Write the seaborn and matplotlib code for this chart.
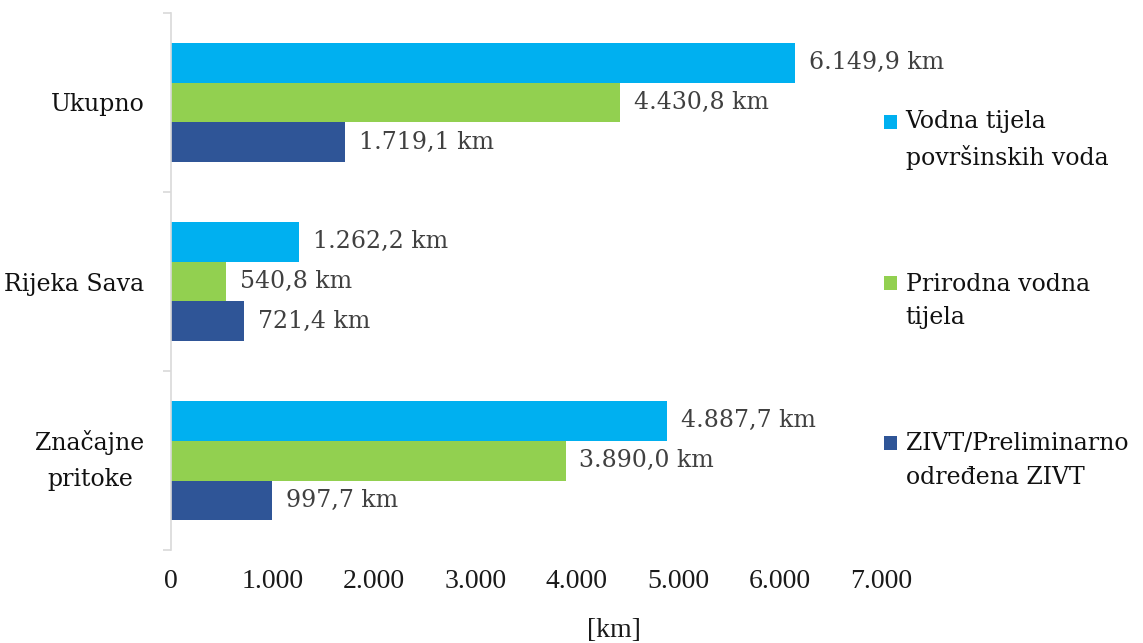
import pandas as pd
import matplotlib.pyplot as plt
import seaborn as sns
from matplotlib.patches import Rectangle
from matplotlib.legend_handler import HandlerPatch
from matplotlib.ticker import FuncFormatter, FixedLocator

# data
categories = ['Ukupno', 'Rijeka Sava', 'Značajne\npritoke']
series = ['Vodna tijela\npovršinskih voda', 'Prirodna vodna\ntijela', 'ZIVT/Preliminarno\nodređena ZIVT']
vodna_tijela = [6149.9, 1262.2, 4887.7]
prirodna = [4430.8, 540.8, 3890.0]
zivt = [1719.1, 721.4, 997.7]
colors = ['#00B0F0', '#92D050', '#2F5597']
x_ticks = [0, 1000, 2000, 3000, 4000, 5000, 6000, 7000]

df = pd.DataFrame({
    'kategorija': categories * 3,
    'serija': [s for s in series for _ in categories],
    'km': vodna_tijela + prirodna + zivt,
})

sns.set_theme(style="white")
plt.rcParams['font.family'] = ['DejaVu Serif']

fig = plt.figure(figsize=(11.43, 6.43), dpi=100)
ax = fig.add_axes([0.1496, 0.1446, 0.6212, 0.8352])

sns.barplot(data=df, y='kategorija', x='km', hue='serija', order=categories,
            hue_order=series, palette=colors, orient='h', width=0.67,
            saturation=1, linewidth=0, errorbar=None, ax=ax)


def hr_num(v, dec):
    s = f"{v:,.{dec}f}"
    return s.replace(',', 'X').replace('.', ',').replace('X', '.')


for cont, vals in zip(ax.containers, [vodna_tijela, prirodna, zivt]):
    ax.bar_label(cont, labels=[hr_num(v, 1) + ' km' for v in vals], padding=10,
                 fontsize=17, color='#404040', family='DejaVu Serif')

ax.set_xlim(0, 7000)
ax.set_ylim(2.5, -0.5)
ax.xaxis.set_major_locator(FixedLocator(x_ticks))
ax.xaxis.set_major_formatter(FuncFormatter(lambda x, p: hr_num(x, 0)))
ax.tick_params(axis='x', length=0, pad=13.5, labelsize=20, labelcolor='#1a1a1a')
for lbl in ax.get_xticklabels():
    lbl.set_family('Liberation Serif')
ax.set_xlabel('[km]', fontsize=20, family='Liberation Serif', color='#1a1a1a')
ax.xaxis.set_label_coords((614 - 171) / 710, -0.126)
ax.set_ylabel('')

ax.yaxis.set_minor_locator(FixedLocator([-0.5, 0.5, 1.5, 2.5]))
ax.tick_params(axis='y', which='major', length=0, pad=19, labelsize=17, labelcolor='#111111')
ax.tick_params(axis='y', which='minor', left=True, length=6, width=1.2, color='#D9D9D9')
for lbl in ax.get_yticklabels():
    if '\n' in lbl.get_text():
        lbl.set_multialignment('center')
        lbl.set_linespacing(1.75)
        lbl.set_verticalalignment('center')

for side in ['top', 'right', 'bottom']:
    ax.spines[side].set_visible(False)
ax.spines['left'].set_color('#D9D9D9')
ax.spines['left'].set_linewidth(1.2)


# legend square sits next to the first line of each two-line label
def first_line_square(legend, orig_handle, xdescent, ydescent, width, height, fontsize):
    return Rectangle((-xdescent, -ydescent + 0.78 * fontsize), width, height)


handles, labels = ax.get_legend_handles_labels()
ax.get_legend().remove()
leg = fig.legend(handles, labels, loc='upper left', bbox_to_anchor=(0.7545, 0.862),
                 frameon=False, fontsize=17, handlelength=0.55, handleheight=0.55,
                 handletextpad=0.38, labelspacing=4.35,
                 handler_map={h: HandlerPatch(patch_func=first_line_square) for h in handles})
for t in leg.get_texts():
    t.set_linespacing(1.6)
    t.set_color('#111111')

fig.savefig('out.png', dpi=100)
